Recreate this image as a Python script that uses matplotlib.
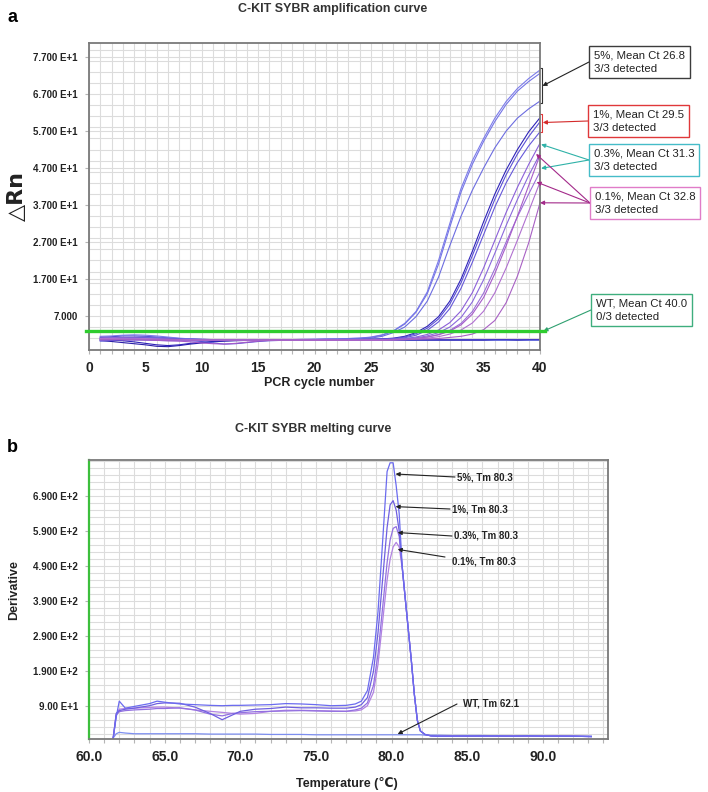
import numpy as np
import matplotlib
matplotlib.use('Agg')
import matplotlib.pyplot as plt

plt.rcParams['font.family'] = ['Liberation Sans', 'DejaVu Sans']

W, H = 708, 792

# ---------------- amplification data (delta Rn per cycle) ----------------
cycles = list(range(1, 41))

amp_5_a = [1.5, 1.6, 1.8, 1.9, 1.8, 1.6, 1.3, 1.0, 0.8, 0.7,
           0.6, 0.6, 0.6, 0.6, 0.6, 0.6, 0.6, 0.6, 0.6, 0.7,
           0.7, 0.8, 0.9, 1.0, 1.3, 1.9, 3.0, 5.0, 8.2, 13.5,
           22.0, 32.0, 41.5, 49.0, 55.0, 60.5, 65.0, 68.5, 71.2, 73.5]
amp_5_b = [0.2, 0.4, 0.8, 1.2, 1.3, 1.2, 1.0, 0.8, 0.7, 0.6,
           0.6, 0.6, 0.6, 0.6, 0.6, 0.6, 0.6, 0.6, 0.7, 0.7,
           0.8, 0.8, 0.9, 1.0, 1.2, 1.8, 2.9, 4.8, 8.0, 13.0,
           21.0, 31.0, 40.5, 48.0, 54.2, 59.6, 64.2, 67.8, 70.4, 72.6]
amp_5_c = [0.9, 1.0, 1.1, 1.1, 1.0, 0.9, 0.8, 0.7, 0.6, 0.6,
           0.6, 0.6, 0.6, 0.6, 0.6, 0.6, 0.6, 0.6, 0.6, 0.6,
           0.7, 0.7, 0.8, 0.9, 1.0, 1.5, 2.5, 4.0, 6.8, 11.0,
           17.5, 26.0, 34.0, 41.0, 47.0, 52.5, 57.0, 60.5, 63.0, 65.1]
amp_1_a = [0.6, 0.5, 0.3, 0.0, -0.4, -0.8, -1.0, -0.8, -0.4, -0.1,
           0.1, 0.3, 0.4, 0.5, 0.5, 0.5, 0.5, 0.5, 0.5, 0.5,
           0.5, 0.5, 0.6, 0.6, 0.7, 0.8, 1.0, 1.5, 2.5, 4.2,
           6.8, 11.0, 17.0, 24.5, 32.5, 40.0, 46.5, 52.0, 56.8, 60.6]
amp_1_b = [0.4, 0.4, 0.5, 0.5, 0.5, 0.5, 0.4, 0.4, 0.3, 0.1,
           -0.3, -0.6, -0.5, -0.2, 0.1, 0.3, 0.4, 0.5, 0.5, 0.5,
           0.5, 0.5, 0.5, 0.6, 0.7, 0.8, 0.9, 1.3, 2.2, 3.7,
           6.2, 10.2, 16.0, 23.3, 31.0, 38.6, 45.2, 50.8, 55.5, 59.5]
amp_1_c = [1.0, 1.1, 1.2, 1.2, 1.1, 1.0, 0.9, 0.8, 0.7, 0.6,
           0.5, 0.5, 0.5, 0.5, 0.5, 0.5, 0.5, 0.5, 0.5, 0.5,
           0.5, 0.5, 0.5, 0.6, 0.6, 0.7, 0.8, 1.1, 1.8, 3.1,
           5.4, 9.0, 14.5, 21.5, 29.0, 36.5, 43.0, 48.5, 53.0, 56.8]
amp_03_a = [0.8, 0.8, 0.9, 0.9, 0.8, 0.7, 0.7, 0.6, 0.6, 0.5,
            0.5, 0.5, 0.5, 0.5, 0.5, 0.5, 0.5, 0.5, 0.5, 0.5,
            0.5, 0.5, 0.5, 0.5, 0.5, 0.6, 0.7, 0.9, 1.3, 2.0,
            3.2, 5.2, 8.4, 13.3, 20.0, 27.5, 35.0, 41.8, 48.0, 53.7]
amp_03_b = [1.3, 1.2, 1.0, 0.8, 0.6, 0.4, 0.3, 0.3, 0.4, 0.5,
            0.5, 0.5, 0.5, 0.5, 0.5, 0.5, 0.5, 0.5, 0.5, 0.5,
            0.5, 0.5, 0.5, 0.5, 0.5, 0.6, 0.7, 0.8, 1.1, 1.6,
            2.5, 4.0, 6.6, 10.8, 16.8, 24.0, 31.5, 38.5, 45.0, 50.8]
amp_03_c = [0.5, 0.6, 0.7, 0.7, 0.7, 0.6, 0.6, 0.5, 0.5, 0.5,
            0.5, 0.5, 0.5, 0.5, 0.5, 0.5, 0.5, 0.5, 0.5, 0.5,
            0.5, 0.5, 0.5, 0.5, 0.5, 0.5, 0.6, 0.7, 0.9, 1.3,
            2.0, 3.1, 5.0, 8.2, 13.2, 19.8, 27.0, 33.8, 40.0, 46.0]
amp_01_a = [0.7, 0.7, 0.6, 0.6, 0.5, 0.4, 0.3, 0.2, 0.0, -0.3,
            -0.5, -0.6, -0.4, -0.1, 0.2, 0.4, 0.5, 0.5, 0.5, 0.5,
            0.5, 0.5, 0.5, 0.5, 0.5, 0.5, 0.6, 0.7, 0.9, 1.3,
            1.9, 2.9, 4.6, 7.5, 12.0, 18.5, 26.0, 34.0, 42.3, 50.5]
amp_01_b = [0.9, 0.9, 1.0, 1.0, 0.9, 0.8, 0.7, 0.6, 0.6, 0.5,
            0.5, 0.5, 0.5, 0.5, 0.5, 0.5, 0.5, 0.5, 0.5, 0.5,
            0.5, 0.5, 0.5, 0.5, 0.5, 0.5, 0.5, 0.6, 0.8, 1.0,
            1.4, 2.1, 3.2, 5.1, 8.3, 13.3, 20.0, 27.5, 35.3, 43.2]
amp_01_c = [0.6, 0.6, 0.6, 0.6, 0.6, 0.6, 0.6, 0.6, 0.5, 0.5,
            0.5, 0.5, 0.5, 0.5, 0.5, 0.5, 0.5, 0.5, 0.5, 0.5,
            0.5, 0.5, 0.5, 0.5, 0.5, 0.5, 0.6, 0.6, 0.7, 0.8,
            0.9, 1.2, 1.5, 2.1, 3.3, 5.8, 10.6, 17.8, 26.8, 37.6]
amp_wt_a = [0.8, 0.9, 1.0, 1.1, 1.1, 1.0, 0.9, 0.8, 0.7, 0.6,
            0.5, 0.5, 0.5, 0.4, 0.4, 0.4, 0.4, 0.4, 0.4, 0.4,
            0.4, 0.4, 0.4, 0.4, 0.4, 0.4, 0.4, 0.4, 0.4, 0.4,
            0.4, 0.4, 0.4, 0.4, 0.4, 0.4, 0.4, 0.4, 0.4, 0.4]
amp_wt_b = [0.3, 0.1, -0.2, -0.5, -0.8, -1.2, -1.3, -1.0, -0.6, -0.3,
            0.0, 0.2, 0.3, 0.4, 0.5, 0.5, 0.5, 0.5, 0.5, 0.5,
            0.5, 0.5, 0.5, 0.5, 0.5, 0.5, 0.5, 0.5, 0.5, 0.5,
            0.5, 0.5, 0.5, 0.5, 0.5, 0.6, 0.6, 0.5, 0.6, 0.6]
amp_wt_c = [1.2, 1.4, 1.6, 1.6, 1.5, 1.3, 1.1, 0.9, 0.8, 0.7,
            0.6, 0.6, 0.6, 0.6, 0.6, 0.6, 0.6, 0.6, 0.6, 0.6,
            0.6, 0.6, 0.6, 0.6, 0.6, 0.6, 0.6, 0.6, 0.6, 0.6,
            0.6, 0.6, 0.6, 0.6, 0.6, 0.6, 0.6, 0.6, 0.6, 0.6]
threshold = 2.9

amp_curves = [amp_wt_a, amp_wt_b, amp_wt_c,
              amp_5_a, amp_5_b, amp_5_c,
              amp_1_a, amp_1_b, amp_1_c,
              amp_03_a, amp_03_b, amp_03_c,
              amp_01_a, amp_01_b, amp_01_c]
amp_colors = ['#7d8ff0', '#2a1fa8', '#4a3cc8',
              '#7b7bea', '#7474e6', '#6c6ce0',
              '#2e22b8', '#5a4fd6', '#6658da',
              '#8c5fd9', '#8a68dc', '#9a6fd8',
              '#a65bc9', '#b070d0', '#a860c4']

amp_yticks = [7, 17, 27, 37, 47, 57, 67, 77]
amp_ylabels = ['7.000', '1.700 E+1', '2.700 E+1', '3.700 E+1',
               '4.700 E+1', '5.700 E+1', '6.700 E+1', '7.700 E+1']
amp_xticks = [0, 5, 10, 15, 20, 25, 30, 35, 40]

# ---------------- melting data (derivative vs temperature) ----------------
temps = [61.6, 61.8, 62.0, 62.4, 63.0, 64.0, 64.5, 65.0, 66.0, 67.0,
         68.0, 68.8, 69.5, 70.0, 71.0, 72.0, 73.0, 74.0, 75.0, 76.0,
         77.0, 77.6, 78.0, 78.4, 78.8, 79.1, 79.4, 79.7, 79.9, 80.1,
         80.3, 80.5, 80.7, 80.9, 81.1, 81.3, 81.5, 81.7, 81.9, 82.2,
         82.6, 83.0, 84.0, 85.0, 86.0, 87.0, 88.0, 89.0, 90.0, 91.0, 92.0, 93.2]
melt_5 = [0, 60, 105, 85, 90, 98, 105, 102, 97, 95,
          93, 92, 93, 93, 94, 95, 98, 97, 95, 92,
          93, 97, 105, 135, 230, 360, 557, 760, 785, 785,
          720, 640, 490, 398, 310, 222, 125, 50, 20, 10,
          6, 5, 5, 6, 5, 6, 5, 6, 5, 5, 5, 4]
melt_1 = [0, 70, 78, 82, 85, 92, 98, 100, 99, 88,
          70, 52, 66, 76, 82, 84, 88, 86, 86, 85,
          85, 88, 95, 115, 190, 300, 450, 600, 665, 677,
          650, 590, 488, 398, 310, 222, 125, 50, 20, 10,
          6, 5, 5, 5, 6, 5, 5, 6, 5, 5, 5, 4]
melt_03 = [0, 65, 75, 78, 80, 82, 84, 84, 86, 80,
           68, 63, 70, 72, 75, 76, 77, 78, 77, 76,
           76, 80, 85, 100, 150, 240, 370, 500, 565, 598,
           603, 575, 486, 398, 310, 222, 125, 50, 20, 10,
           6, 5, 6, 5, 5, 6, 5, 5, 5, 6, 5, 4]
melt_01 = [0, 68, 82, 84, 85, 87, 88, 88, 85, 80,
           76, 73, 70, 68, 70, 76, 79, 79, 78, 77,
           76, 77, 80, 92, 130, 210, 330, 450, 510, 545,
           558, 545, 484, 398, 310, 222, 125, 50, 20, 10,
           6, 5, 5, 6, 5, 5, 6, 5, 5, 5, 5, 4]
melt_wt = [0, 12, 16, 14, 12, 12, 12, 12, 12, 12,
           11, 11, 11, 11, 11, 10, 10, 10, 9, 9,
           9, 9, 9, 9, 9, 9, 9, 9, 9, 9,
           9, 9, 9, 9, 9, 9, 9, 9, 9, 8,
           8, 8, 7, 7, 7, 6, 6, 6, 6, 5, 5, 5]
melt_curves = [melt_wt, melt_01, melt_03, melt_1, melt_5]
melt_colors = ['#7d8ff0', '#b283e2', '#9270e0', '#6f5fe0', '#6b6bef']

melt_yticks = [90, 190, 290, 390, 490, 590, 690]
melt_ylabels = ['9.00 E+1', '1.900 E+2', '2.900 E+2', '3.900 E+2',
                '4.900 E+2', '5.900 E+2', '6.900 E+2']
melt_xticks = [60, 65, 70, 75, 80, 85, 90]
melt_xlabels = ['60.0', '65.0', '70.0', '75.0', '80.0', '85.0', '90.0']


def fp(x, y):
    # pixel position (from top-left) -> figure fraction
    return (x / W, 1 - y / H)


def style_axes(ax):
    ax.set_axisbelow(True)
    ax.grid(which='both', color='#dcdcdc', lw=0.8)
    for s in ax.spines.values():
        s.set_color('#7a7a7a')
        s.set_linewidth(1.3)
    ax.tick_params(which='both', direction='out', length=3, width=0.8,
                   color='#b5b5b5')
    ax.tick_params(axis='y', which='minor', length=0)
    ax.tick_params(axis='x', labelsize=10, pad=5)
    ax.tick_params(axis='y', labelsize=7, pad=5)
    for lab in ax.get_xticklabels() + ax.get_yticklabels():
        lab.set_fontweight('bold')
        lab.set_color('#222222')


fig = plt.figure(figsize=(W / 100, H / 100), dpi=100)

# ---------------- panel a ----------------
ax_a = fig.add_axes([89 / W, 1 - 350 / H, 451 / W, 307 / H])
for ys, col in zip(amp_curves, amp_colors):
    ax_a.plot(cycles, ys, color=col, lw=0.8)
ax_a.plot([-0.3, 40.4], [threshold, threshold], color='#2fcc2f', lw=2.4,
          clip_on=False, zorder=5)
ax_a.set_xlim(0, 40)
ax_a.set_ylim(-2.2, 80.8)
ax_a.set_xticks(amp_xticks)
ax_a.set_xticks(np.arange(0, 41, 1), minor=True)
ax_a.set_yticks(amp_yticks)
ax_a.set_yticklabels(amp_ylabels)
ax_a.set_yticks(np.arange(1, 81, 3), minor=True)
style_axes(ax_a)

# brackets marking the 5% and 1% end points
ax_a.plot([40.0, 40.2, 40.2, 40.0], [74.1, 74.1, 64.6, 64.6], color='#333333',
          lw=0.8, clip_on=False)
ax_a.plot([40.0, 40.2, 40.2, 40.0], [61.6, 61.6, 56.8, 56.8], color='#e0383a',
          lw=0.8, clip_on=False)

box_specs = [
    ('5%, Mean Ct 26.8\n3/3 detected', 589, 62, '#3c3c3c', '#222222',
     [(40.22, 69.2)]),
    ('1%, Mean Ct 29.5\n3/3 detected', 588, 121, '#e0383a', '#d42a2a',
     [(40.25, 59.3)]),
    ('0.3%, Mean Ct 31.3\n3/3 detected', 589, 160, '#45bcc8', '#2fb2a8',
     [(40.1, 53.4), (40.1, 46.9)]),
    ('0.1%, Mean Ct 32.8\n3/3 detected', 590, 203, '#e07cc8', '#a32a8a',
     [(39.65, 50.8), (39.7, 43.2), (40.0, 37.6)]),
    ('WT, Mean Ct 40.0\n0/3 detected', 591, 310, '#3fae7e', '#2fa070',
     [(40.3, 2.9)]),
]
for txt, bx, by, ec, ac, targets in box_specs:
    fig.text(*fp(bx + 5, by), txt, ha='left', va='center', fontsize=8.2,
             color='#222222', linespacing=1.45,
             bbox=dict(boxstyle='square,pad=0.4', fc='white', ec=ec, lw=1.0))
    for tx, ty in targets:
        ax_a.annotate('', xy=(tx, ty), xycoords='data',
                      xytext=fp(bx, by), textcoords='figure fraction',
                      annotation_clip=False,
                      arrowprops=dict(arrowstyle='-|>', color=ac, lw=0.8,
                                      mutation_scale=6, shrinkA=0, shrinkB=0))

fig.text(*fp(333, 9), 'C-KIT SYBR amplification curve', ha='center',
         va='center', fontsize=9, fontweight='bold', color='#333333')
fig.text(*fp(12, 17), 'a', ha='center', va='center', fontsize=13,
         fontweight='bold')
fig.text(*fp(17, 196), '\u25b3Rn', ha='center', va='center', fontsize=16,
         fontweight='bold', rotation=90, color='#222222',
         family=['DejaVu Sans'])
fig.text(*fp(319, 383), 'PCR cycle number', ha='center', va='center',
         fontsize=9, fontweight='bold', color='#222222')

# ---------------- panel b ----------------
ax_b = fig.add_axes([89 / W, 1 - 739 / H, 519 / W, 279 / H])
for ys, col in zip(melt_curves, melt_colors):
    ax_b.plot(temps, ys, color=col, lw=0.9)
ax_b.set_xlim(60, 94.3)
ax_b.set_ylim(-3, 793)
ax_b.set_xticks(melt_xticks)
ax_b.set_xticklabels(melt_xlabels)
ax_b.set_xticks(np.arange(60, 95, 1), minor=True)
ax_b.set_yticks(melt_yticks)
ax_b.set_yticklabels(melt_ylabels)
ax_b.set_yticks(np.arange(10, 793, 20), minor=True)
style_axes(ax_b)
ax_b.spines['left'].set_color('#3cbf3c')
ax_b.spines['left'].set_linewidth(1.6)

melt_notes = [
    ('5%, Tm 80.3', 457, 477, 455, 477, (80.26, 753)),
    ('1%, Tm 80.3', 452, 509, 450, 509, (80.26, 660)),
    ('0.3%, Tm 80.3', 454, 536, 452, 536, (80.4, 586)),
    ('0.1%, Tm 80.3', 452, 562, 445, 557, (80.4, 538)),
    ('WT, Tm 62.1', 463, 703, 457, 704, (80.4, 11)),
]
for txt, tx, ty, sx, sy, tip in melt_notes:
    fig.text(*fp(tx, ty), txt, ha='left', va='center', fontsize=7,
             fontweight='bold', color='#222222')
    ax_b.annotate('', xy=tip, xycoords='data', xytext=fp(sx, sy),
                  textcoords='figure fraction', annotation_clip=False,
                  arrowprops=dict(arrowstyle='-|>', color='#222222', lw=0.8,
                                  mutation_scale=6, shrinkA=0, shrinkB=0))

fig.text(*fp(313, 429), 'C-KIT SYBR melting curve', ha='center', va='center',
         fontsize=9, fontweight='bold', color='#333333')
fig.text(*fp(12, 448), 'b', ha='center', va='center', fontsize=13,
         fontweight='bold')
fig.text(*fp(14, 590), 'Derivative', ha='center', va='center', fontsize=9,
         fontweight='bold', rotation=90, color='#222222')
fig.text(*fp(347, 783), 'Temperature (\u2103)', ha='center', va='center',
         fontsize=9, fontweight='bold', color='#222222',
         family=['Liberation Sans', 'DejaVu Sans'])

fig.savefig('out.png', dpi=100)
